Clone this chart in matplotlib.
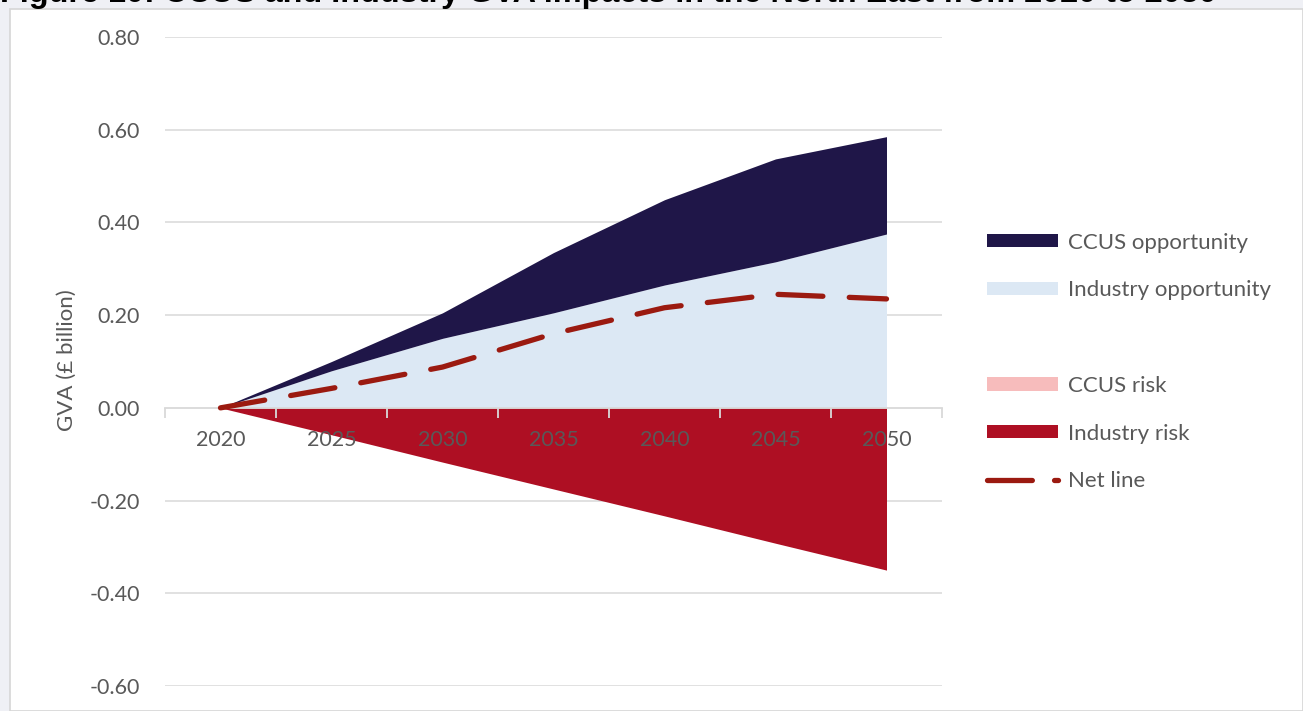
import matplotlib
matplotlib.use("Agg")
import matplotlib.pyplot as plt
from matplotlib.patches import Patch, Rectangle
from matplotlib.lines import Line2D
import numpy as np

years = ["2020", "2025", "2030", "2035", "2040", "2045", "2050"]
industry_opportunity = [0.0, 0.08, 0.15, 0.205, 0.265, 0.315, 0.375]
ccus_opportunity = [0.0, 0.02, 0.055, 0.13, 0.184, 0.222, 0.21]
ccus_risk = [0.0, 0.0, 0.0, 0.0, 0.0, 0.0, 0.0]
industry_risk = [0.0, -0.058, -0.117, -0.175, -0.233, -0.292, -0.35]
net_line = [0.0, 0.042, 0.088, 0.16, 0.216, 0.245, 0.235]
yticks = [0.80, 0.60, 0.40, 0.20, 0.00, -0.20, -0.40, -0.60]

C_CCUS_OPP = "#1F1648"
C_IND_OPP = "#DCE8F4"
C_CCUS_RISK = "#F7BCBC"
C_IND_RISK = "#AE0F23"
C_NET = "#9B1A10"
C_TEXT = "#595959"
C_GRID = "#D9D9D9"

plt.rcParams['font.family'] = ['Lato', 'DejaVu Sans']

W, H = 1303, 711
fig = plt.figure(figsize=(W / 100, H / 100), dpi=100)
fig.patch.set_facecolor("#EFF0F5")

# white panel
panel = Rectangle((10 / W, 0), 1 - 10 / W, 1 - 9 / H, transform=fig.transFigure,
                  facecolor="white", edgecolor="#D6D6D6", linewidth=1.2, zorder=-10)
fig.patches.append(panel)

fig.text(0.0, 1 - 2 / H, "Figure 10: CCUS and Industry GVA impacts in the North East from 2020 to 2050",
         fontsize=23.3, fontweight="bold", family="Liberation Sans", color="black",
         ha="left", va="baseline", zorder=-5)

ax = fig.add_axes([165 / W, 1 - 686 / H, (942 - 165) / W, (686 - 37) / H])
ax.set_facecolor("none")

x = np.arange(len(years))
ind_opp = np.array(industry_opportunity)
ccus_opp = np.array(ccus_opportunity)
ind_risk = np.array(industry_risk)
c_risk = np.array(ccus_risk)

ax.fill_between(x, 0, ind_opp, color=C_IND_OPP, linewidth=0, zorder=1)
ax.fill_between(x, ind_opp, ind_opp + ccus_opp, color=C_CCUS_OPP, linewidth=0, zorder=1)
ax.fill_between(x, 0, c_risk, color=C_CCUS_RISK, linewidth=0, zorder=1)
ax.fill_between(x, c_risk, c_risk + ind_risk, color=C_IND_RISK, linewidth=0, zorder=1)
ax.plot(x, net_line, color=C_NET, linewidth=3.8, dashes=(8.5, 5),
        dash_capstyle="round", solid_capstyle="round", zorder=3)

ax.set_xlim(-0.5, len(years) - 0.5)
ax.set_ylim(-0.6, 0.8)

for yv in yticks:
    if yv != 0:
        ax.axhline(yv, color=C_GRID, linewidth=1.1, zorder=0)

ax.set_axisbelow(False)
for s in ["top", "right", "left"]:
    ax.spines[s].set_visible(False)
ax.spines["bottom"].set_position(("data", 0))
ax.spines["bottom"].set_color(C_GRID)
ax.spines["bottom"].set_linewidth(1.3)
ax.spines["bottom"].set_zorder(2)

ax.set_yticks(yticks)
ax.set_yticklabels([f"{v:.2f}" for v in yticks])
ax.tick_params(axis="y", length=0, pad=18, labelsize=15.5, labelcolor=C_TEXT)

ax.set_xticks(x)
ax.set_xticklabels(years)
ax.set_xticks(np.arange(-0.5, len(years), 1.0), minor=True)
ax.tick_params(axis="x", which="major", length=0, pad=16, labelsize=15.5, labelcolor=C_TEXT)
ax.tick_params(axis="x", which="minor", length=7, width=1.3, color=C_GRID, direction="out")
for lab in ax.get_xticklabels():
    lab.set_zorder(5)

fig.text(67 / W, 1 - 360 / H, "GVA (£ billion)", rotation=90, fontsize=16,
         color=C_TEXT, ha="center", va="center")

handles = [
    Patch(facecolor=C_CCUS_OPP, edgecolor="none"),
    Patch(facecolor=C_IND_OPP, edgecolor="none"),
    Patch(facecolor="none", edgecolor="none"),
    Patch(facecolor=C_CCUS_RISK, edgecolor="none"),
    Patch(facecolor=C_IND_RISK, edgecolor="none"),
    Line2D([], [], color=C_NET, linewidth=3.8, dashes=(8.5, 4.2), dash_capstyle="round"),
]
labels = ["CCUS opportunity", "Industry opportunity", " ", "CCUS risk", "Industry risk", "Net line"]
leg = fig.legend(handles, labels, loc="center left", bbox_to_anchor=(987 / W, 1 - 362 / H),
                 frameon=False, fontsize=16, labelcolor=C_TEXT, handlelength=3.2,
                 handleheight=0.54, handletextpad=0.45, labelspacing=1.25,
                 borderpad=0, borderaxespad=0)

fig.savefig("out.png", dpi=100, facecolor=fig.get_facecolor())
